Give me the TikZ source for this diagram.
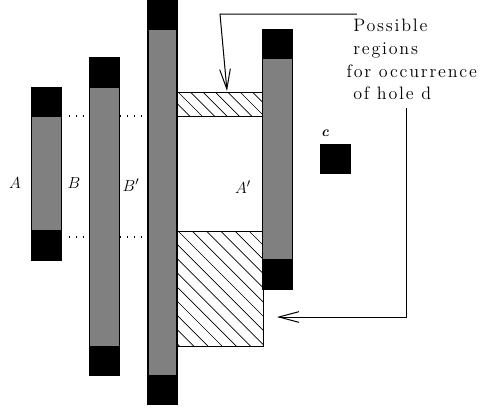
\documentclass[tikz,border=0pt]{standalone}
\usepackage{amsmath}
\usepackage{fontspec}
\newfontfamily\notefont[LetterSpace=10]{Latin Modern Roman}
\usetikzlibrary{arrows.meta}

\begin{document}
\begin{tikzpicture}[x=0.75pt, y=-0.75pt,
  bar/.style={draw=black, fill=gray, line width=0.75pt},
  endcap/.style={fill=black},
  gap/.style={draw=black, line width=0.9pt, dash pattern=on 0.9pt off 4.3pt},
  hatch/.style={draw=black, line width=0.5pt},
  callout/.style={draw=black, line width=0.75pt, -{Straight Barb[length=15pt,width=8pt]}},
  lbl/.style={font=\fontsize{13}{15}\selectfont, inner sep=0pt},
  note/.style={font=\notefont\fontsize{13.5}{17}\selectfont, inner sep=0pt, align=left}]
\useasboundingbox (0,0) rectangle (480,412);

% hatched regions between B' and A'
\begin{scope}
  \clip (177,92) rectangle (263,116);
  \foreach \k in {-3,...,8}
    \draw[hatch] ({178+12.4*\k-30},62) -- ++(120,120);
\end{scope}
\draw[hatch] (177,92) rectangle (263,116);
\begin{scope}
  \clip (177,231) rectangle (263,346);
  \foreach \k in {-9,...,6}
    \draw[hatch] ({178+14.2*\k-10},221) -- ++(140,140);
\end{scope}
\draw[hatch] (177,231) rectangle (263,346);

% bars
\draw[bar] (32,87) rectangle (62,260);
\fill[endcap] (32,87) rectangle (62,117);
\fill[endcap] (32,230) rectangle (62,260);
\draw[bar] (90,57) rectangle (120,375);
\fill[endcap] (90,57) rectangle (120,88);
\fill[endcap] (90,346) rectangle (120,375);
\draw[bar, line width=1.2pt] (148,0) rectangle (177,404);
\fill[endcap] (148,0) rectangle (177,30);
\fill[endcap] (148,375) rectangle (177,404);
\draw[bar] (263,29) rectangle (293,289);
\fill[endcap] (263,29) rectangle (293,59);
\fill[endcap] (263,259) rectangle (293,289);
\fill[endcap] (320,144) rectangle (351,174);

% dotted gaps
\draw[gap] (69,116) -- (87,116);
\draw[gap] (120,116) -- (144,116);
\draw[gap] (69,237) -- (87,237);
\draw[gap] (120,237) -- (144,237);

% labels
\node[lbl] (a)  at (15,183)  {$A$};
\node[lbl] (b)  at (74,183)  {$B$};
\node[lbl] (bp) at (131,185) {$B'$};
\node[lbl] (ap) at (243,187) {$A'$};
\node[inner sep=0pt, font=\fontsize{11}{12}\selectfont] (c) at (325,133) {\textbf{\textit{c}}};

\node[note, anchor=north west] (note) at (353,19)
  {Possible\\regions\\\hspace*{-5pt}for occurrence\\of hole d};

% callouts
\coordinate (lead1) at (357,14);
\coordinate (tip1)  at (227,91);
\coordinate (lead2) at (407,108);
\coordinate (tip2)  at (277,317);
\draw[callout] (lead1) -- (220,14) -- (tip1);
\draw[callout] (lead2) |- (tip2);
\end{tikzpicture}
\end{document}
